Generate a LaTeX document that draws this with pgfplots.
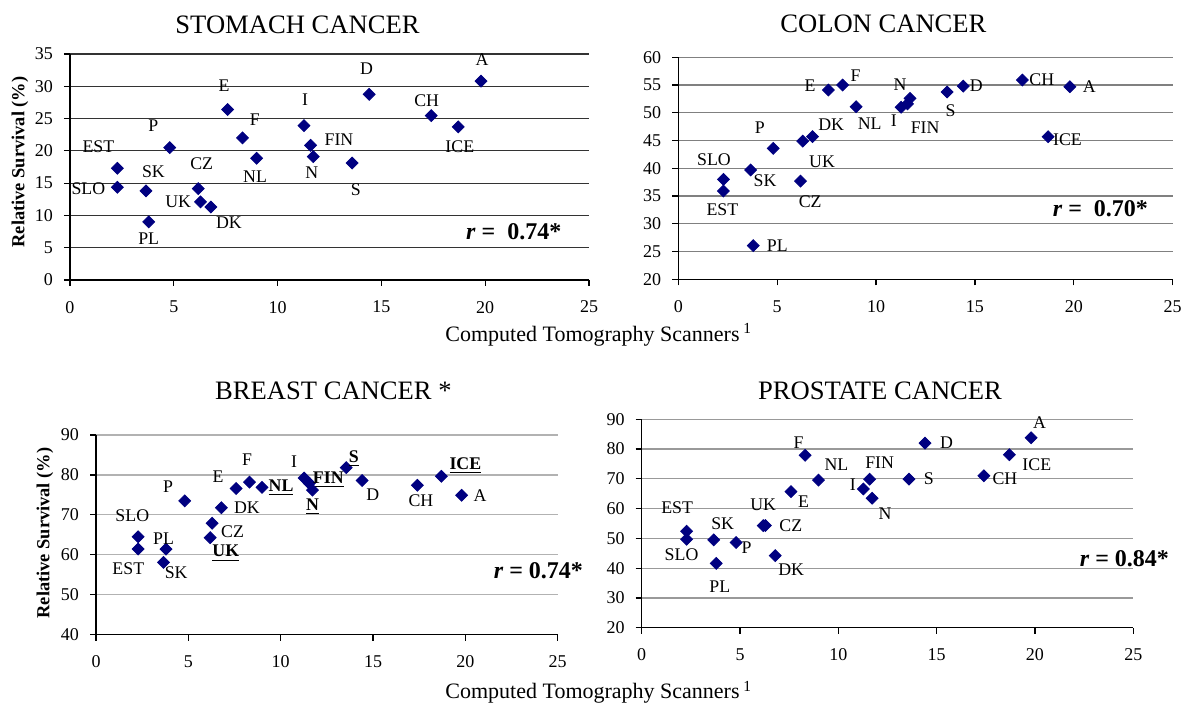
\documentclass[border=0pt]{standalone}
\usepackage{fontspec}
\setmainfont{Liberation Serif}
\usepackage{pgfplots}
\usepackage{pgfplotstable}
\pgfplotsset{compat=1.18}
\definecolor{navy}{RGB}{0,0,128}
\newcommand{\ul}[1]{\underline{\textbf{#1}}}

\pgfplotstableread{
lab x y dx dy
EST 2.28 17.3 -9.5 10.8
SLO 2.28 14.35 -14.5 -0.5
SK 3.66 13.8 3.7 9.7
PL 3.79 9.0 0 -8.3
P 4.80 20.5 -8.2 10.8
CZ 6.18 14.15 1.7 12.3
UK 6.29 12.1 -11.2 0
DK 6.79 11.3 9 -7.7
E 7.59 26.4 -1.8 11.8
F 8.31 22.0 6.2 9
NL 8.99 18.85 -0.8 -9.2
I 11.27 23.9 0.5 12.8
FIN 11.59 20.85 14.2 2.7
N 11.72 19.1 -0.8 -8
S 13.59 18.1 1.8 -13.2
D 14.41 28.75 -1.3 13
CH 17.40 25.45 -2.3 7.3
ICE 18.70 23.7 0.8 -9.8
A 19.80 30.8 0.5 10.7
}\stomachdata

\pgfplotstableread{
lab x y dx dy
SLO 2.28 38.0 -4.7 10
EST 2.28 35.9 -0.5 -9.5
SK 3.66 39.7 7.2 -5.3
PL 3.79 26.05 12 0
P 4.80 43.6 -6.7 10.3
CZ 6.18 37.7 4.8 -10.3
UK 6.29 44.9 9.7 -10.2
DK 6.79 45.7 9.3 6.2
E 7.59 54.1 -9.2 2.3
F 8.31 55.0 6.5 4.7
NL 8.99 51.1 6.8 -8.3
I 11.27 51.0 -3.7 -6.7
FIN 11.59 51.6 8.8 -11.8
N 11.72 52.6 -5 6.7
S 13.59 53.75 1.7 -9.3
D 14.41 54.8 6.5 0
CH 17.40 55.9 9.7 0
ICE 18.70 45.7 9.7 -1.3
A 19.80 54.7 9.7 0
}\colondata

\pgfplotstableread{
lab x y dx dy
SLO 2.28 64.5 -2.9 10.8
EST 2.28 61.45 -4.9 -9.7
PL 3.79 61.45 -1.2 5
SK 3.66 58.1 6.3 -5.2
P 4.80 73.5 -8.3 7
CZ 6.18 64.3 11.2 3
\ul{UK} 6.29 67.9 6.8 -15
DK 6.79 71.8 12.8 0
E 7.59 76.6 -9 6
F 8.31 78.2 -1.2 11.3
\ul{NL} 8.99 76.9 9.5 0
I 11.27 79.2 -5 8.3
\ul{FIN} 11.55 77.9 9.5 2
\ul{N} 11.72 76.2 0 -8.3
\ul{S} 13.55 81.8 3.8 4.7
D 14.41 78.6 5.3 -7.2
CH 17.40 77.4 1.8 -7.7
\ul{ICE} 18.70 79.65 12 5.2
A 19.80 74.9 9.2 0
}\breastdata

\pgfplotstableread{
lab x y dx dy
EST 2.28 52.4 -4.7 11.8
SLO 2.28 49.7 -2.5 -7.5
SK 3.66 49.5 4.5 8.3
PL 3.79 41.6 1.8 -11.7
P 4.80 48.6 5.3 -2.8
UK 6.18 54.3 0 10.3
CZ 6.29 54.3 12.7 0
DK 6.79 44.2 8 -7.2
E 7.59 65.7 6.3 -5
F 8.31 77.9 -3.3 6.5
NL 8.99 69.6 9 7.8
I 11.27 66.6 -5.3 2.3
FIN 11.59 69.9 5 8
N 11.72 63.5 6.5 -7.8
S 13.59 69.9 10 0
D 14.41 82.0 10.8 0
CH 17.40 71.0 10.5 -1.5
ICE 18.70 78.1 13.7 -4.8
A 19.80 83.8 4.2 7.7
}\prostatedata

\pgfplotsset{
  panel/.style={
    scale only axis, anchor=south west, clip=false,
    xmin=0, xmax=25, xtick={0,5,...,25},
    axis x line*=bottom, axis y line*=left,
    axis line style={-, black, line width=0.6pt},
    tick align=outside, major tick length=3pt,
    tick style={black, line width=0.6pt},
    ymajorgrids,
    tick label style={font=\fontsize{9}{10}\selectfont},
    /pgf/number format/assume math mode=true,
    xticklabel style={yshift=-4pt},
    yticklabel style={xshift=-2pt},
  },
  pts/.style={
    only marks, mark=square*, mark size=2.1pt,
    mark options={rotate=45, fill=navy, draw=navy},
    nodes near coords, point meta=explicit symbolic,
    visualization depends on={\thisrow{dx}\as\labdx},
    visualization depends on={\thisrow{dy}\as\labdy},
    every node near coord/.append style={anchor=center, xshift=\labdx, yshift=\labdy,
      font=\fontsize{8.9}{10}\selectfont, text=black, inner sep=0pt},
  },
}

\begin{document}
\begin{tikzpicture}[x=1pt,y=1pt]

% Stomach
\begin{axis}[panel, at={(35pt,212pt)}, width=259.5pt, height=113pt,
  ymin=0, ymax=35, ytick={0,5,...,35},
  grid style={black!80, line width=0.6pt}]
\addplot[pts] table[x=x, y=y, meta=lab] {\stomachdata};
\end{axis}

% Colon
\begin{axis}[panel, at={(339.15pt,212.35pt)}, width=247.2pt, height=111pt,
  ymin=20, ymax=60, ytick={20,25,...,60},
  grid style={black!50, line width=0.6pt}]
\addplot[pts] table[x=x, y=y, meta=lab] {\colondata};
\end{axis}

% Breast
\begin{axis}[panel, at={(48pt,34.65pt)}, width=230.85pt, height=99.85pt,
  ymin=40, ymax=90, ytick={40,50,...,90},
  grid style={black!30, line width=0.6pt}]
\addplot[pts] table[x=x, y=y, meta=lab] {\breastdata};
\end{axis}

% Prostate
\begin{axis}[panel, at={(320.85pt,38.15pt)}, width=245.8pt, height=104.2pt,
  ymin=20, ymax=90, ytick={20,30,...,90},
  grid style={black!40, line width=0.6pt}]
\addplot[pts] table[x=x, y=y, meta=lab] {\prostatedata};
\end{axis}

% Titles
\node[anchor=base, font=\fontsize{13.3}{15}\selectfont] at (148.75,335.4) {STOMACH CANCER};
\node[anchor=base, font=\fontsize{13.3}{15}\selectfont] at (441.7,335.8) {COLON CANCER};
\node[anchor=base, font=\fontsize{13.3}{15}\selectfont] at (166.7,152.3) {BREAST CANCER *};
\node[anchor=base, font=\fontsize{13.3}{15}\selectfont] at (440,152.3) {PROSTATE CANCER};

% Y labels
\node[rotate=90, font=\bfseries\fontsize{9.2}{10}\selectfont] at (10,271) {Relative Survival (\%)};
\node[rotate=90, font=\bfseries\fontsize{9.2}{10}\selectfont] at (22.5,85.5) {Relative Survival (\%)};

% X labels
\node[anchor=base west, inner sep=0pt, font=\fontsize{11}{12}\selectfont] at (222.5,181.15) {Computed Tomography Scanners\,\textsuperscript{1}};
\node[anchor=base west, inner sep=0pt, font=\fontsize{11}{12}\selectfont] at (222.5,2.5) {Computed Tomography Scanners\,\textsuperscript{1}};

% Correlations
\node[anchor=east, inner sep=0pt, font=\bfseries\fontsize{12}{14}\selectfont] at (280.85,236.15) {\textit{r} =\ \ 0.74*};
\node[anchor=east, inner sep=0pt, font=\bfseries\fontsize{12}{14}\selectfont] at (574.2,247.85) {\textit{r} =\ \ 0.70*};
\node[anchor=east, inner sep=0pt, font=\bfseries\fontsize{12}{14}\selectfont] at (291.7,66.65) {\textit{r} = 0.74*};
\node[anchor=east, inner sep=0pt, font=\bfseries\fontsize{12}{14}\selectfont] at (584.7,72.5) {\textit{r} = 0.84*};

\pgfresetboundingbox
\path[use as bounding box] (0,0) rectangle (591,352);
\end{tikzpicture}
\end{document}
